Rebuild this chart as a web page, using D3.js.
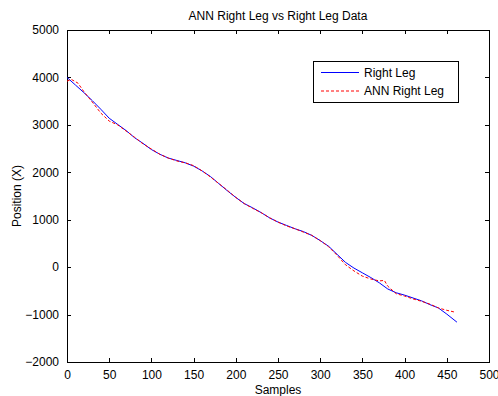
<!DOCTYPE html>
<html>
<head>
<meta charset="utf-8">
<script src="https://cdn.jsdelivr.net/npm/d3@7"></script>
<style>
  body { margin: 0; background: #fff; }
  svg { display: block; }
  text { font-family: "Liberation Sans", Arial, sans-serif; font-size: 12px; fill: #000; }
  .axis text { font-size: 12px; }
  .axis path, .axis line { stroke: #000; shape-rendering: crispEdges; }
</style>
</head>
<body>
<svg id="chart" width="498" height="396"></svg>
<script>
// Right Leg (measured)
const legSamples = [0, 10, 20, 30, 40, 50, 60, 70, 80, 90, 100, 110, 120, 130, 140, 150, 160, 170, 180, 190,
  200, 210, 220, 230, 240, 250, 260, 270, 280, 290, 300, 310, 320, 330, 340, 350, 360, 370, 380, 390,
  400, 410, 420, 430, 440, 450, 462];
const legValues = [4000, 3840, 3680, 3510, 3330, 3140, 3010, 2880, 2730, 2610, 2480, 2380, 2300, 2250, 2200, 2130, 2030, 1910, 1760, 1610,
  1470, 1340, 1250, 1150, 1040, 950, 880, 810, 750, 670, 560, 440, 270, 100, -20, -120, -220, -330, -460, -540,
  -590, -650, -710, -790, -860, -990, -1160];

// ANN Right Leg (predicted)
const annSamples = [0, 5, 13, 20, 30, 40, 50, 60, 70, 80, 90, 100, 110, 120, 130, 140, 150, 160, 170, 180, 190,
  200, 210, 220, 230, 240, 250, 260, 270, 280, 290, 300, 310, 320, 330, 340, 350, 360, 370, 376, 380, 390,
  400, 410, 420, 430, 440, 450, 460];
const annValues = [3920, 3960, 3880, 3700, 3480, 3250, 3080, 3000, 2870, 2740, 2600, 2490, 2380, 2300, 2240, 2200, 2140, 2030, 1900, 1760, 1620,
  1470, 1340, 1240, 1150, 1040, 950, 870, 810, 740, 670, 560, 430, 250, 50, -80, -190, -250, -290, -280, -400, -560,
  -610, -670, -720, -780, -860, -910, -950];

const xTicks = [0, 50, 100, 150, 200, 250, 300, 350, 400, 450, 500];
const yTicks = [-2000, -1000, 0, 1000, 2000, 3000, 4000, 5000];

const seriesNames = ["Right Leg", "ANN Right Leg"];

const margin = { top: 30, right: 9, bottom: 34, left: 67 };
const svg = d3.select("#chart");
const width = +svg.attr("width") - margin.left - margin.right;
const height = +svg.attr("height") - margin.top - margin.bottom;

const x = d3.scaleLinear().domain([0, 500]).range([0, width]);
const y = d3.scaleLinear().domain([-2000, 5000]).range([height, 0]);

const g = svg.append("g").attr("transform", "translate(" + margin.left + "," + margin.top + ")");

// axes with inward ticks, matlab-style box
g.append("g").attr("class", "axis")
  .attr("transform", "translate(0," + height + ")")
  .call(d3.axisBottom(x).tickValues(xTicks).tickSizeInner(-4).tickSizeOuter(0).tickPadding(8).tickFormat(d3.format("d")));
g.append("g").attr("class", "axis")
  .call(d3.axisLeft(y).tickValues(yTicks).tickSizeInner(-4).tickSizeOuter(0).tickPadding(8).tickFormat(d3.format("d")));
g.append("g").attr("class", "axis")
  .call(d3.axisTop(x).tickValues(xTicks).tickSizeInner(-4).tickSizeOuter(0).tickFormat(""));
g.append("g").attr("class", "axis")
  .attr("transform", "translate(" + width + ",0)")
  .call(d3.axisRight(y).tickValues(yTicks).tickSizeInner(-4).tickSizeOuter(0).tickFormat(""));

const line = d3.line().x(d => x(d[0])).y(d => y(d[1]));

g.append("path")
  .datum(legSamples.map((s, i) => [s, legValues[i]]))
  .attr("fill", "none").attr("stroke", "#0000ff").attr("stroke-width", 1)
  .attr("d", line);

g.append("path")
  .datum(annSamples.map((s, i) => [s, annValues[i]]))
  .attr("fill", "none").attr("stroke", "#ff0000").attr("stroke-width", 1)
  .attr("stroke-dasharray", "3,2")
  .attr("d", line);

// titles
svg.append("text").attr("x", margin.left + width / 2).attr("y", 20)
  .attr("text-anchor", "middle").text("ANN Right Leg vs Right Leg Data");
svg.append("text").attr("x", margin.left + width / 2).attr("y", 394)
  .attr("text-anchor", "middle").text("Samples");
svg.append("text").attr("transform", "translate(21," + (margin.top + height / 2) + ") rotate(-90)")
  .attr("text-anchor", "middle").text("Position (X)");

// legend
const legend = svg.append("g").attr("transform", "translate(313,61)");
legend.append("rect").attr("width", 145).attr("height", 41)
  .attr("fill", "#fff").attr("stroke", "#000").attr("shape-rendering", "crispEdges");
const legStyles = [{ color: "#0000ff", dash: null }, { color: "#ff0000", dash: "3,2" }];
seriesNames.forEach((name, i) => {
  const yy = 11.5 + i * 18.5;
  legend.append("line").attr("x1", 8).attr("x2", 46).attr("y1", yy).attr("y2", yy)
    .attr("stroke", legStyles[i].color).attr("stroke-dasharray", legStyles[i].dash);
  legend.append("text").attr("x", 51).attr("y", yy + 4).text(name);
});
</script>
</body>
</html>
